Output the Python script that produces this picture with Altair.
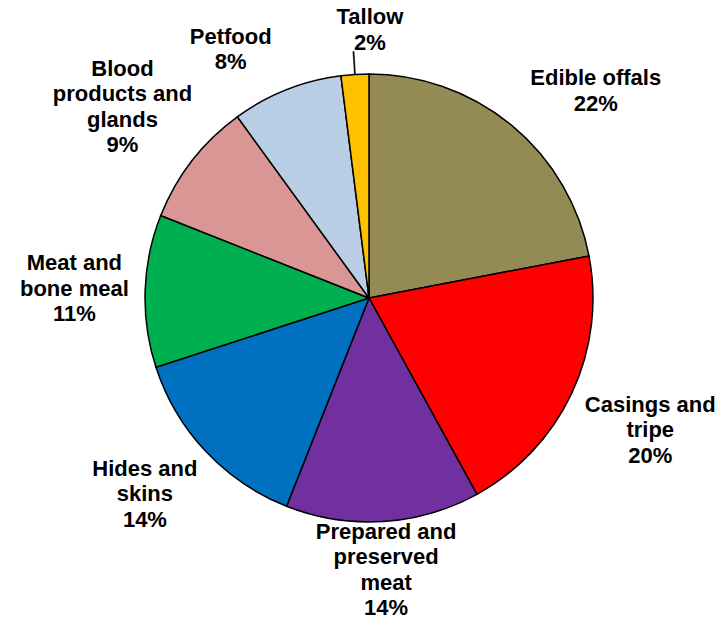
import altair as alt
import pandas as pd
import numpy as np

categories = ["Edible offals", "Casings and tripe", "Prepared and preserved meat",
              "Hides and skins", "Meat and bone meal", "Blood products and glands",
              "Petfood", "Tallow"]
shares = [22, 20, 14, 14, 11, 9, 8, 2]
label_lines = [["Edible offals"], ["Casings and", "tripe"], ["Prepared and", "preserved", "meat"],
               ["Hides and", "skins"], ["Meat and", "bone meal"], ["Blood", "products and", "glands"],
               ["Petfood"], ["Tallow"]]
colors = ["#948A54", "#FF0000", "#7030A0", "#0070C0", "#00B050", "#D99694", "#B9CDE5", "#FFC000"]

# ---- layout / style ----
R = 224          # pie radius (px)
FS = 22          # label font size
LH = 25.5        # label line height
GAP = 15.5       # gap between pie and label box
VEXT = 28.5      # vertical half-extent used for label placement
LEADER = 23      # leader line length (px)
# best-fit label angle nudges (degrees), as the spreadsheet moved these labels
angle_nudge = {"Edible offals": 8.0, "Petfood": -7.5, "Tallow": 3.8, "Hides and skins": 2.0}
leader_for = ["Tallow"]   # labels drawn with a leader line

# approximate Arial Bold advance widths (per 1000 em) for label sizing
W = {" ": 278, "%": 889, "a": 556, "b": 611, "c": 556, "d": 611, "e": 556, "f": 333,
     "g": 611, "h": 611, "i": 278, "k": 556, "l": 278, "m": 889, "n": 611, "o": 611,
     "p": 611, "r": 389, "s": 556, "t": 333, "u": 611, "v": 556, "w": 778, "B": 722,
     "C": 722, "E": 667, "H": 722, "M": 833, "P": 667, "T": 611}


def text_width(s):
    return sum(W.get(ch, 556) for ch in s) / 1000 * FS


total = sum(shares)
cum = np.cumsum([0] + shares)
df = pd.DataFrame({"category": categories, "share": shares, "idx": range(len(categories))})
df["start"] = cum[:-1]
df["end"] = cum[1:]
df["mid"] = (df["start"] + df["end"]) / 2
df["label"] = [lines + [f"{s}%"] for lines, s in zip(label_lines, shares)]

# place each label block just outside the pie, then convert the block centre to the
# anchor of its first line (Vega draws following lines below the anchor)
l_theta, l_r = [], []
for cat, lines, m in zip(df["category"], df["label"], df["mid"]):
    a = m / total * 2 * np.pi + np.deg2rad(angle_nudge.get(cat, 0.0))
    w = max(text_width(t) for t in lines)
    r = R + GAP + abs(np.sin(a)) * w / 2 + abs(np.cos(a)) * VEXT
    cx, cy = r * np.sin(a), -r * np.cos(a)
    ay = cy - (len(lines) - 1) * LH / 2
    ra = float(np.hypot(cx, ay))
    aa = float(np.arctan2(cx, -ay)) % (2 * np.pi)
    l_theta.append(aa / (2 * np.pi) * total)
    l_r.append(ra)
df["label_theta"] = l_theta
df["label_r"] = l_r

# thin wedge just outside the pie along the slice's mid-angle = leader line
ldf = df[df["category"].isin(leader_for)][["category", "mid"]].copy()
ldf["l0"] = ldf["mid"] - 0.035
ldf["l1"] = ldf["mid"] + 0.035
ldf["r_in"] = float(R)
ldf["r_out"] = float(R + LEADER)

tscale = alt.Scale(domain=[0, total])

base = alt.Chart(df).encode(x=alt.value(361), y=alt.value(290))

pie = base.mark_arc(outerRadius=R, stroke="black", strokeWidth=1.5).encode(
    theta=alt.Theta("start:Q", scale=tscale),
    theta2="end:Q",
    color=alt.Color("category:N", scale=alt.Scale(domain=categories, range=colors), legend=None),
)

leader = alt.Chart(ldf).mark_arc(fill="black", stroke="black", strokeWidth=0.6).encode(
    x=alt.value(361), y=alt.value(290),
    theta=alt.Theta("l0:Q", scale=tscale),
    theta2="l1:Q",
    radius=alt.Radius("r_out:Q", scale=None),
    radius2="r_in:Q",
)

labels = base.mark_text(font="Liberation Sans", fontWeight="bold", fontSize=FS,
                        lineHeight=LH, align="center", baseline="middle", color="black").encode(
    theta=alt.Theta("label_theta:Q", scale=tscale),
    text="label",
    radius=alt.Radius("label_r:Q", scale=None),
)

chart = (pie + leader + labels).properties(
    width=708, height=613, padding=0, autosize=alt.AutoSizeParams(type="none")
).configure_view(stroke=None)

chart.save("out.html", embed_options={"renderer": "svg", "actions": False})
